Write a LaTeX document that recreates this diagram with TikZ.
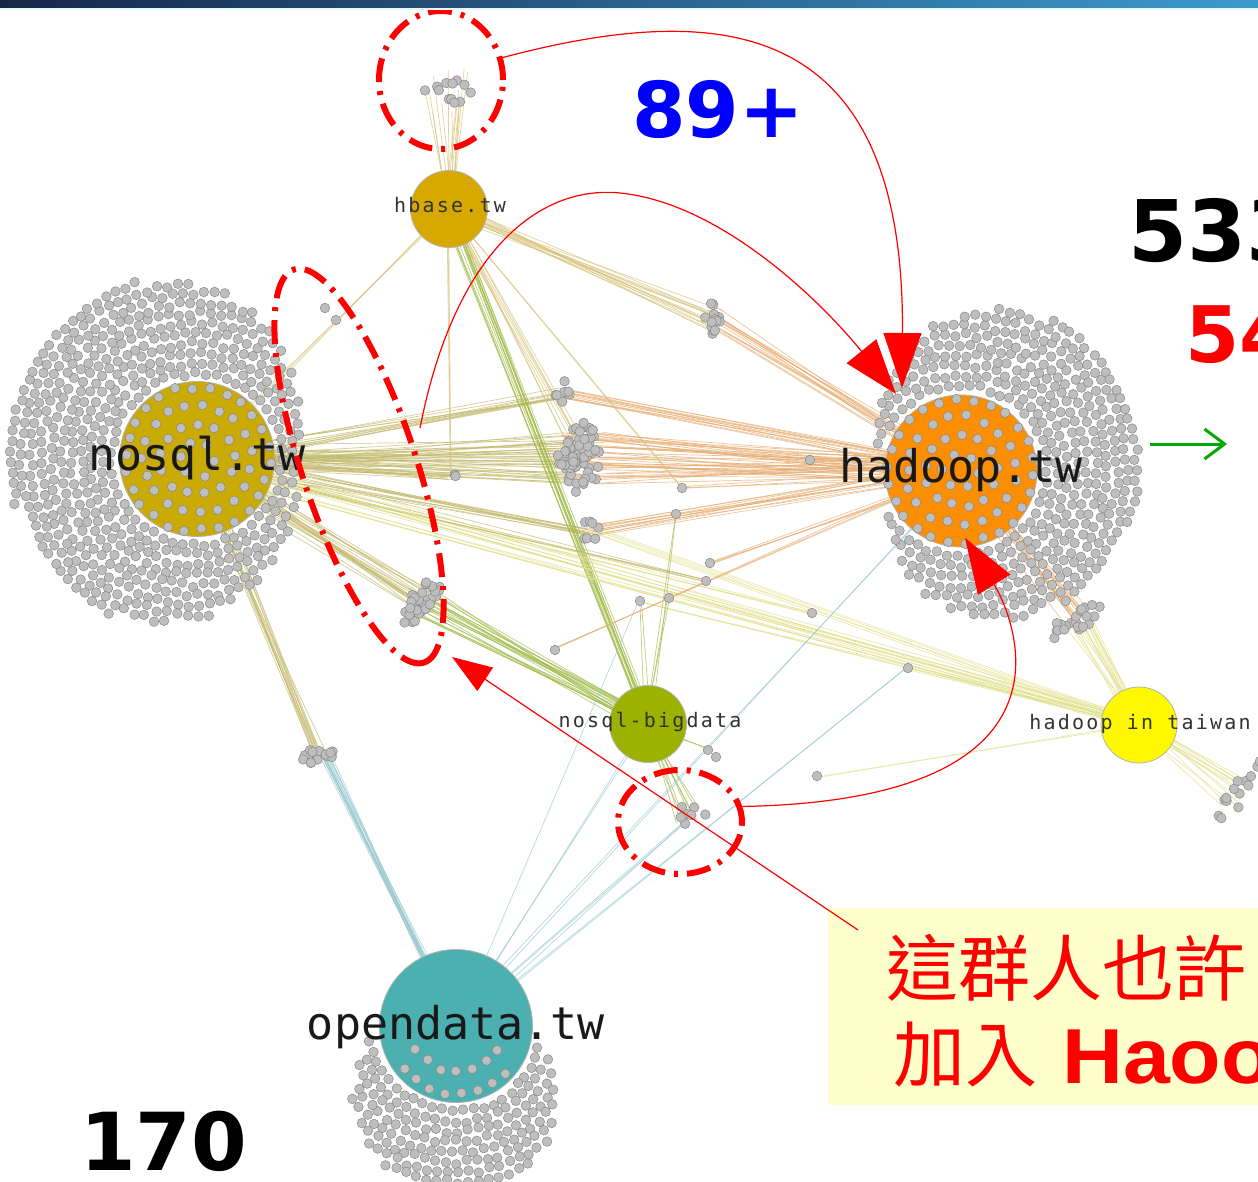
\documentclass[tikz,border=0pt]{standalone}
\usepackage{fontspec}
\setmainfont{DejaVu Sans}
\newfontfamily\monofont{DejaVu Sans Mono}
\newfontfamily\monowide[LetterSpace=11]{DejaVu Sans Mono}
\newfontfamily\arialfont{Liberation Sans}
\newfontfamily\cjkfont{Noto Sans CJK TC}
\usepackage{tikz}
\usetikzlibrary{arrows.meta,calc,shapes.geometric}

\definecolor{dotgrey}{RGB}{190,190,190}
\definecolor{dotrim}{RGB}{135,135,135}
\definecolor{hbasefill}{RGB}{214,168,0}
\definecolor{nosqlfill}{RGB}{202,170,4}
\definecolor{hadoopfill}{RGB}{252,142,4}
\definecolor{bigdatafill}{RGB}{156,178,0}
\definecolor{taiwanfill}{RGB}{255,248,0}
\definecolor{opendatafill}{RGB}{76,176,176}
\definecolor{oliveedge}{RGB}{196,186,110}
\definecolor{orangeedge}{RGB}{232,172,112}
\definecolor{greenedge}{RGB}{160,186,70}
\definecolor{tealedge}{RGB}{150,200,205}
\definecolor{yellowedge}{RGB}{225,225,140}
\definecolor{hbaseedge}{RGB}{214,194,120}
\definecolor{notefill}{RGB}{255,255,204}
\definecolor{markgreen}{RGB}{0,170,0}
\definecolor{barleft}{RGB}{22,38,72}
\definecolor{barright}{RGB}{60,155,205}

\pgfdeclarelayer{links}
\pgfsetlayers{links,main}

\tikzset{
  hub/.style={circle, draw=black!30, line width=0.8pt, inner sep=0pt},
  smalldot/.style={fill=dotgrey, draw=dotrim, line width=0.5pt},
  linkline/.style={line width=0.7pt, opacity=0.7},
  biglabel/.style={font=\monofont\fontsize{45}{45}\selectfont, text=black!90},
  smalllabel/.style={font=\monowide\fontsize{20}{20}\selectfont, text=black!80},
  ring/.style={ellipse, draw=red, line width=6pt, dash pattern=on 24pt off 9pt on 4pt off 9pt, inner sep=0pt},
  redarrow/.style={draw=red, line width=1.2pt, -{Triangle[length=55pt,width=38pt]}},
  bignum/.style={font=\bfseries\fontsize{#1}{#1}\selectfont, anchor=base west, inner sep=0pt},
  notebox/.style={fill=notefill, inner sep=0pt, anchor=north west},
  notetext/.style={text=red, anchor=base west, inner sep=0pt, font=\cjkfont\fontsize{72}{72}\selectfont}
}

\newcommand{\hubnode}[4] {\node at (#1) (#2) [hub, minimum size=#3, fill=#4] {};}
\newcommand{\bundle}[6] {\foreach \k in {1,...,#4} {\draw [linkline, #3] ($(#1)+({#5*rand},{#5*rand})$) -- ($(#2)+({#6*rand},{#6*rand})$);}}
\newcommand{\blob}[5] {\foreach \k in {1,...,#2} {\pgfmathsetmacro\ba{360*rnd}\pgfmathsetmacro\br{sqrt(rnd)}\pgfmathsetmacro\bu{#3*\br*cos(\ba)}\pgfmathsetmacro\bv{#4*\br*sin(\ba)}\filldraw [smalldot] ($(#1)+({\bu*cos(#5)-\bv*sin(#5)},{\bu*sin(#5)+\bv*cos(#5)})$) circle (4.8pt);}}
\newcommand{\dotring}[6] {\foreach \rad in {#2,#3,...,#4} {\pgfmathtruncatemacro\cnt{2*pi*\rad/#6}\foreach \k in {1,...,\cnt} {\pgfmathsetmacro\ang{\k/\cnt*360+\rad*3.7}\pgfmathsetmacro\rout{#5}\pgfmathtruncatemacro\ok{\rad<\rout}\ifnum\ok=1 \filldraw [smalldot] ($(#1)+({(\rad+2.5*rand)*cos(\ang)},{(\rad+2.5*rand)*sin(\ang)})$) circle (4.8pt);\fi}}}

\begin{document}
\begin{tikzpicture}[x=1pt, y=-1pt]
\pgfmathsetseed{31}
\clip (0,0) rectangle (1258,1182);

\hubnode {197,459}{nosql}{155}{nosqlfill}
\hubnode {961,471}{hadoop}{152}{hadoopfill}
\hubnode {449,209}{hbase}{77}{hbasefill}
\hubnode {648,724}{bigdata}{77}{bigdatafill}
\hubnode {1139,725}{taiwan}{76}{taiwanfill}
\hubnode {456,1026}{opendata}{153}{opendatafill}

\coordinate (topgrp) at (448,91);
\coordinate (grpA) at (712,320);
\coordinate (grpB) at (563,393);
\coordinate (grpC) at (582,458);
\coordinate (grpCc) at (565,464);
\coordinate (grpD) at (590,530);
\coordinate (grpE) at (450,476);
\coordinate (grpF) at (422,602);
\coordinate (grpG) at (320,755);
\coordinate (grpH) at (1078,620);
\coordinate (grpI) at (1240,790);
\coordinate (lowgrp) at (688,815);
\foreach \px/\py [count=\k] in {810/460, 682/488, 676/514, 710/563, 706/581, 640/601, 669/598, 555/650, 812/613, 908/668, 817/776, 325/308, 336/320, 708/750, 716/757}
  \coordinate (lone\k) at (\px,\py);

\begin{pgfonlayer}{links}
\fill [white] (0,0) rectangle (1258,1182);
\bundle{nosql}{grpC}{oliveedge}{44}{14}{26}
\bundle{grpC}{hadoop}{orangeedge}{44}{26}{14}
\bundle{nosql}{grpB}{oliveedge}{12}{10}{6}
\bundle{grpB}{hadoop}{orangeedge}{12}{6}{10}
\bundle{nosql}{grpD}{oliveedge}{12}{10}{6}
\bundle{grpD}{hadoop}{orangeedge}{12}{6}{10}
\bundle{nosql}{grpE}{oliveedge}{8}{10}{4}
\bundle{hbase}{grpA}{hbaseedge}{14}{8}{12}
\bundle{grpA}{hadoop}{orangeedge}{14}{12}{10}
\bundle{hbase}{topgrp}{hbaseedge}{14}{6}{22}
\bundle{hbase}{bigdata}{greenedge}{14}{8}{6}
\bundle{hbase}{grpE}{hbaseedge}{3}{3}{3}
\bundle{hbase}{nosql}{hbaseedge}{3}{4}{6}
\bundle{hbase}{grpC}{hbaseedge}{8}{6}{10}
\bundle{hbase}{lone2}{hbaseedge}{2}{4}{2}
\bundle{nosql}{grpF}{oliveedge}{22}{12}{14}
\bundle{grpF}{bigdata}{greenedge}{22}{14}{8}
\bundle{nosql}{grpG}{oliveedge}{14}{8}{8}
\bundle{grpG}{opendata}{tealedge}{14}{8}{8}
\bundle{nosql}{taiwan}{yellowedge}{14}{14}{8}
\bundle{nosql}{lone5}{oliveedge}{5}{10}{2}
\bundle{nosql}{lone9}{yellowedge}{4}{10}{2}
\bundle{taiwan}{grpH}{yellowedge}{16}{8}{12}
\bundle{grpH}{hadoop}{orangeedge}{16}{12}{10}
\bundle{taiwan}{grpI}{yellowedge}{14}{6}{18}
\bundle{taiwan}{grpD}{yellowedge}{5}{6}{4}
\bundle{taiwan}{lone6}{yellowedge}{3}{6}{2}
\bundle{taiwan}{lone11}{yellowedge}{2}{6}{2}
\bundle{taiwan}{lone10}{yellowedge}{2}{6}{2}
\bundle{bigdata}{lowgrp}{greenedge}{9}{6}{12}
\bundle{bigdata}{lone6}{greenedge}{2}{4}{2}
\bundle{bigdata}{lone7}{greenedge}{2}{4}{2}
\bundle{bigdata}{lone3}{greenedge}{2}{4}{2}
\bundle{bigdata}{lone14}{greenedge}{2}{4}{2}
\bundle{opendata}{bigdata}{tealedge}{2}{10}{4}
\bundle{opendata}{lone6}{tealedge}{1}{4}{2}
\bundle{opendata}{lone10}{tealedge}{2}{6}{2}
\bundle{opendata}{hadoop}{tealedge}{2}{6}{10}
\bundle{opendata}{lowgrp}{tealedge}{3}{6}{6}
\bundle{hadoop}{lone1}{orangeedge}{3}{6}{2}
\bundle{hadoop}{lone4}{orangeedge}{4}{8}{2}
\bundle{hadoop}{lone2}{orangeedge}{3}{8}{2}
\bundle{hadoop}{lone8}{orangeedge}{3}{8}{2}
\end{pgfonlayer}

\dotring{nosql}{86}{96}{196}{157-42*cos(\ang)-8*sin(\ang)-11*cos(2*\ang)}{10.5}
\dotring{nosql}{18}{36}{72}{100}{17}
\dotring{hadoop}{86}{96}{186}{140+49*cos(\ang)-8*sin(\ang)-10*cos(2*\ang)}{10.5}
\dotring{hadoop}{18}{36}{72}{100}{17}
\dotring{opendata}{86}{96}{176}{72+95*sin(\ang)}{10.5}
\dotring{opendata}{46}{68}{68}{20+80*sin(\ang)}{16}

\blob{topgrp}{12}{26}{13}{0}
\blob{grpA}{14}{9}{18}{10}
\blob{grpB}{7}{9}{12}{0}
\blob{grpC}{55}{18}{36}{0}
\blob{grpCc}{12}{10}{15}{0}
\blob{grpD}{7}{9}{12}{0}
\blob{grpE}{3}{6}{6}{0}
\blob{grpF}{34}{28}{12}{-57}
\blob{grpG}{16}{18}{8}{-12}
\blob{grpH}{24}{32}{10}{-30}
\blob{grpI}{14}{36}{10}{-55}
\blob{lowgrp}{7}{20}{9}{0}
\foreach \k in {1,...,15}
  \filldraw [smalldot] (lone\k) circle (4.8pt);

\node (nosqltext) at (197,458) [biglabel] {nosql.tw};
\node (hadooptext) at (961,470) [biglabel] {hadoop.tw};
\node (opendatatext) at (456,1027) [biglabel] {opendata.tw};
\node (hbasetext) at (450,205) [smalllabel] {hbase.tw};
\node (bigdatatext) at (650,722) [smalllabel] {nosql-bigdata};
\node (taiwantext) at (1140,724) [smalllabel] {hadoop in taiwan};

\node (topring) at (441,80) [ring, minimum width=124, minimum height=138] {};
\node (leftring) at (359,466) [ring, minimum width=414, minimum height=114, rotate=-71.7] {};
\node (lowring) at (680,822) [ring, minimum width=124, minimum height=104] {};

\node (note) at (828,908) [notebox, minimum width=440, minimum height=197] {};
\node (notefirst) at (886,995) [notetext] {這群人也許};
\node (notejoin) at (893,1081) [notetext] {加入};
\node (notehadoop) at (1062,1083) [notetext, xscale=1.08, font=\arialfont\bfseries\fontsize{78}{78}\selectfont] {Haoo};

\node (plusnum) at (632,138) [bignum=77, text=blue] {89+};
\node (totalnum) at (1128,262) [bignum=85] {533};
\node (newnum) at (1185,362) [bignum=78, text=red] {54};
\node (leftnum) at (80,1170) [bignum=80] {170};

\coordinate (loopstart) at (420,428);
\coordinate (looptop) at (620,193);
\coordinate (tipa) at (902,388);
\coordinate (tipb) at (896,394);
\coordinate (tipc) at (965,538);
\coordinate (notetip) at (858,930);
\coordinate (ringtip) at (452,657);
\coordinate (greenfrom) at (1150,444);
\coordinate (greento) at (1227,444);

\draw [redarrow] (topring.20) .. controls (720,0) and (905,15) .. (tipa);
\draw [redarrow] (loopstart) .. controls (455,250) and (540,185) .. (looptop) .. controls (720,203) and (820,300) .. (tipb);
\draw [redarrow] (lowring.14) .. controls (1100,800) and (1010,610) .. (tipc);
\draw [redarrow, -{Triangle[length=40pt,width=28pt]}] (notetip) -- (ringtip);
\draw [markgreen, line width=3pt, -{Straight Barb[length=20pt,width=30pt]}] (greenfrom) -- (greento);

\shade [left color=barleft, right color=barright] (0,0) rectangle (1258,8);
\fill [cyan!10] (0,8) rectangle (1258,10);

\end{tikzpicture}
\end{document}
